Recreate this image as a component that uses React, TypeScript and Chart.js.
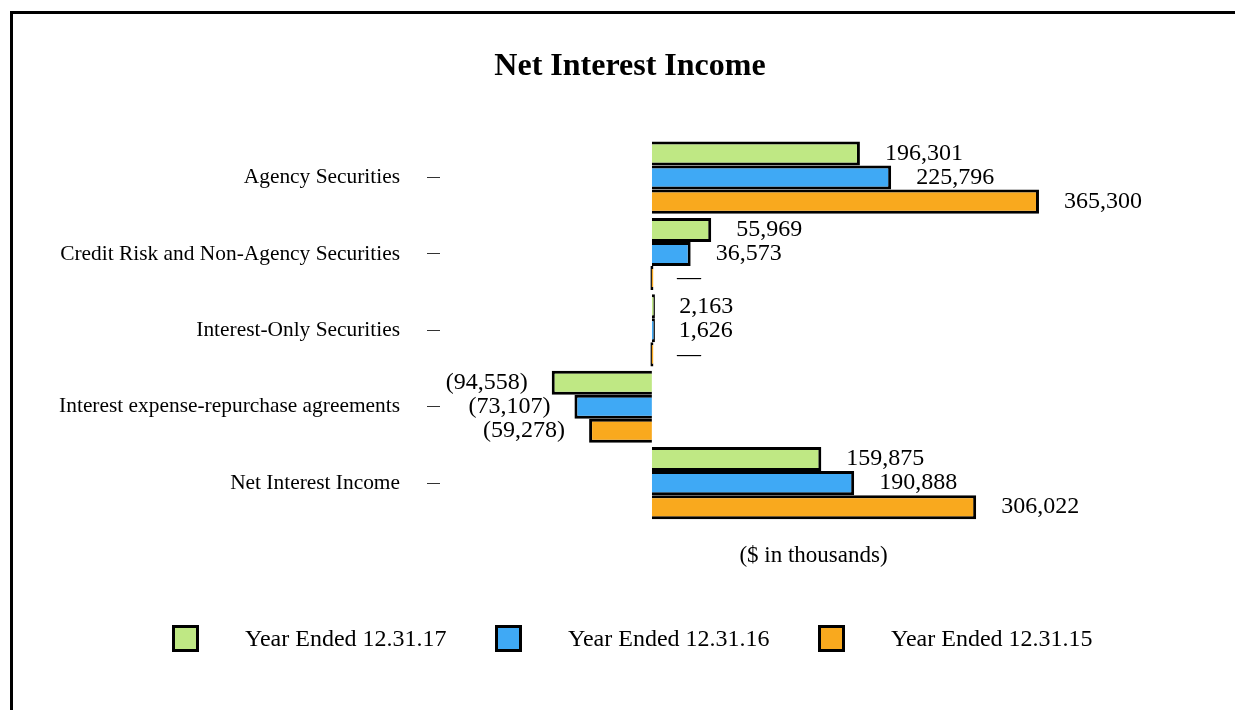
import React, { useEffect, useRef } from "react";
import { Chart, registerables } from "chart.js";

Chart.register(...registerables);

const categories = [
  "Agency Securities",
  "Credit Risk and Non-Agency Securities",
  "Interest-Only Securities",
  "Interest expense-repurchase agreements",
  "Net Interest Income",
];
const series2017 = [196301, 55969, 2163, -94558, 159875];
const series2016 = [225796, 36573, 1626, -73107, 190888];
const series2015 = [365300, 0, 0, -59278, 306022];
const seriesLabels = ["Year Ended 12.31.17", "Year Ended 12.31.16", "Year Ended 12.31.15"];
const seriesColors = ["#BFE884", "#3FA9F5", "#F9A91E"];
const chartTitle = "Net Interest Income";
const axisTitle = "($ in thousands)";

const FONT = "'Liberation Serif', 'Times New Roman', serif";

function fmt(v: number): string {
  if (v === 0) return "\u2014";
  const s = Math.abs(v).toLocaleString("en-US");
  return v < 0 ? `(${s})` : s;
}

const valueLabels = {
  id: "valueLabels",
  afterDatasetsDraw(chart: any) {
    const ctx = chart.ctx;
    const xScale = chart.scales.x;
    ctx.save();
    ctx.font = `24px ${FONT}`;
    ctx.fillStyle = "#000";
    ctx.textBaseline = "middle";
    chart.data.datasets.forEach((ds: any, di: number) => {
      const meta = chart.getDatasetMeta(di);
      meta.data.forEach((el: any, i: number) => {
        const v = ds.data[i] as number;
        const zero = xScale.getPixelForValue(0);
        const px = xScale.getPixelForValue(v);
        const y = el.y;
        if (v < 0) {
          ctx.textAlign = "right";
          ctx.fillText(fmt(v), px - 24, y);
        } else {
          ctx.textAlign = "left";
          ctx.fillText(fmt(v), Math.max(px, zero) + 25, y);
        }
      });
    });
    ctx.restore();
  },
};

const titleAndLegend = {
  id: "titleAndLegend",
  afterDraw(chart: any) {
    const ctx = chart.ctx;
    ctx.save();
    // title
    ctx.font = `bold 32px ${FONT}`;
    ctx.fillStyle = "#000";
    ctx.textAlign = "center";
    ctx.textBaseline = "middle";
    ctx.fillText(chartTitle, 630, 67);
    // legend
    const x0 = 172;
    const step = 323;
    const yTop = 625;
    const size = 27;
    ctx.font = `24px ${FONT}`;
    ctx.textAlign = "left";
    chart.data.datasets.forEach((ds: any, i: number) => {
      const x = x0 + i * step;
      ctx.fillStyle = ds.backgroundColor;
      ctx.fillRect(x, yTop, size, size);
      ctx.lineWidth = 3;
      ctx.strokeStyle = "#000";
      ctx.strokeRect(x + 1.5, yTop + 1.5, size - 3, size - 3);
      ctx.fillStyle = "#000";
      ctx.fillText(ds.label, x + 73, yTop + size / 2 + 1);
    });
    ctx.restore();
  },
};

export default function App() {
  const ref = useRef<HTMLCanvasElement | null>(null);

  useEffect(() => {
    if (!ref.current) return;
    const allSeries = [series2017, series2016, series2015];
    const chart = new Chart(ref.current, {
      type: "bar",
      data: {
        labels: categories,
        datasets: allSeries.map((d, i) => ({
          label: seriesLabels[i],
          data: d,
          backgroundColor: seriesColors[i],
          borderColor: "#000",
          borderWidth: 3,
          barPercentage: 1,
          categoryPercentage: 0.944,
          minBarLength: 3,
        })),
      },
      options: {
        animation: false,
        responsive: false,
        devicePixelRatio: 1,
        indexAxis: "y",
        layout: { padding: { left: 0, right: 48, top: 139.4, bottom: 140.6 } },
        plugins: {
          legend: { display: false },
          tooltip: { enabled: false },
          title: { display: false },
        },
        scales: {
          x: {
            min: -200000,
            max: 505000,
            ticks: { display: false },
            grid: { display: false },
            border: { display: false },
            title: {
              display: true,
              text: axisTitle,
              color: "#000",
              font: { family: FONT, size: 23 },
              padding: { top: 12.5, bottom: 0 },
            },
          },
          y: {
            ticks: { color: "#000", font: { family: FONT, size: 21.4 }, padding: 27 },
            grid: {
              offset: false,
              drawOnChartArea: false,
              drawTicks: true,
              tickLength: 13,
              color: "#333",
              lineWidth: 1,
            },
            border: { display: false },
            afterFit: (s: any) => {
              s.width = 440;
            },
          },
        },
      } as any,
      plugins: [valueLabels, titleAndLegend],
    });
    return () => chart.destroy();
  }, []);

  return (
    <div style={{ position: "fixed", left: 0, top: 0, width: 1235, height: 710, overflow: "hidden", background: "#fff" }}>
      <div
        style={{
          position: "absolute",
          left: 10,
          top: 11,
          width: 1300,
          height: 800,
          borderLeft: "3px solid #000",
          borderTop: "3px solid #000",
        }}
      />
      <canvas
        ref={ref}
        width={1235}
        height={710}
        style={{ position: "absolute", left: 0, top: 0, width: 1235, height: 710 }}
      />
    </div>
  );
}
